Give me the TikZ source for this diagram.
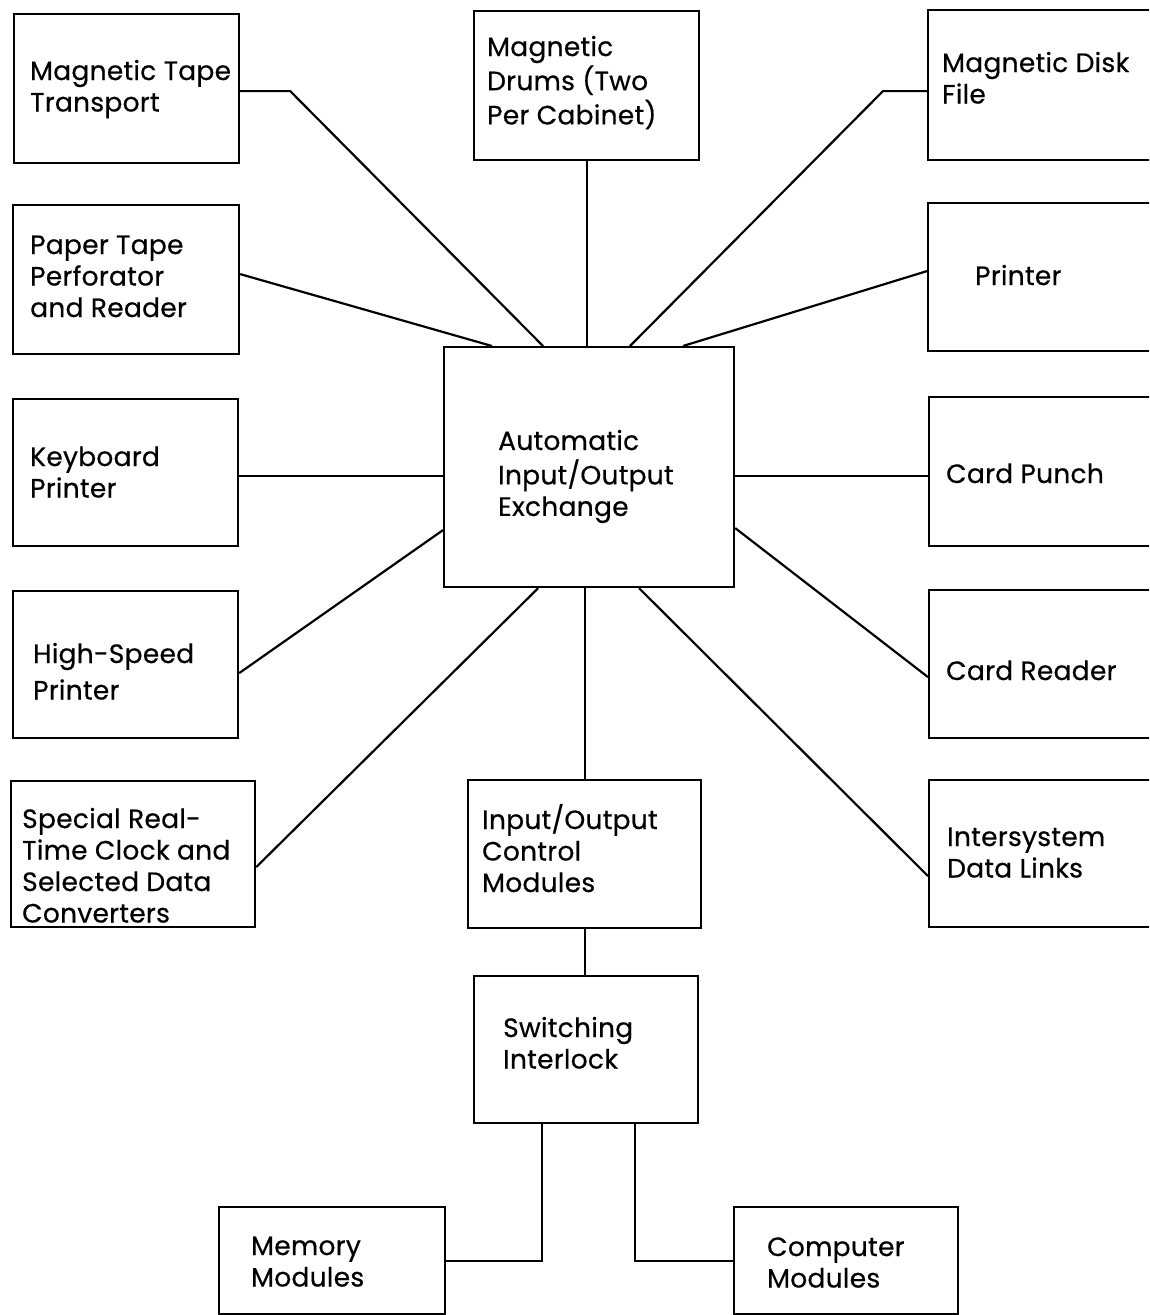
\documentclass[tikz,border=0pt]{standalone}
\usepackage{fontspec}
\setmainfont{Poppins}[LetterSpace=1,FakeBold=0.5]
\usetikzlibrary{calc}
\newcommand{\ml}[1]{\begin{tabular}[t]{@{}l@{}}#1\end{tabular}}
\tikzset{
  box/.style={draw, line width=2.2pt, rectangle, inner sep=0pt, anchor=north west},
  lbl/.style={inner sep=0pt, anchor=base west, font=\fontsize{26.5}{31.5}\selectfont},
  wire/.style={line width=2.2pt, line join=miter}
}
\newcommand{\bx}[5]{\node[box, minimum width=#4pt, minimum height=#5pt] (#1) at (#2,#3) {};}
\begin{document}
\begin{tikzpicture}[x=1pt,y=-1pt]
\useasboundingbox (0,0) rectangle (1149,1315);
\clip (0,0) rectangle (1149,1315);
\fill[white] (0,0) rectangle (1149,1315);
% boxes
\bx{mtt}{13}{13}{225}{149}
\bx{ptp}{12}{204}{226}{149}
\bx{kbd}{12}{398}{225}{147}
\bx{hsp}{12}{590}{225}{147}
\bx{srt}{10}{780}{244}{146}
\bx{drm}{473}{10}{225}{149}
\bx{cen}{443}{346}{290}{240}
\bx{dsk}{927}{9}{240}{150}
\bx{prt}{927}{202}{240}{148}
\bx{cpn}{928}{396}{240}{149}
\bx{crd}{928}{589}{240}{148}
\bx{isl}{928}{779}{240}{147}
\bx{ioc}{467}{779}{233}{148}
\bx{swi}{473}{975}{224}{147}
\bx{mem}{218}{1206}{226}{107}
\bx{cmp}{733}{1206}{224}{107}
% labels
\node[lbl] (mtt-l) at (30,80) {\ml{Magnetic Tape\\Transport}};
\node[lbl] (ptp-l) at (30,254) {\ml{Paper Tape\\Perforator\\and Reader}};
\node[lbl] (kbd-l) at (30,466) {\ml{Keyboard\\Printer}};
\node[lbl] (hsp-l) at (33,663) {\ml{High-Speed\\[5pt]Printer}};
\node[lbl] (srt-l) at (22,828) {\ml{Special Real-\\Time Clock and\\Selected Data\\Converters}};
\node[lbl] (drm-l) at (487,56) {\ml{Magnetic\\Drums (Two\\Per Cabinet)}};
\node[lbl] (cen-l) at (498,450) {\ml{Automatic\\Input/Output\\Exchange}};
\node[lbl] (dsk-l) at (942,72) {\ml{Magnetic Disk\\File}};
\node[lbl] (prt-l) at (975,285) {Printer};
\node[lbl] (cpn-l) at (946,483) {Card Punch};
\node[lbl] (crd-l) at (946,680) {Card Reader};
\node[lbl] (isl-l) at (947,846) {\ml{Intersystem\\Data Links}};
\node[lbl] (ioc-l) at (482,829) {\ml{Input/Output\\Control\\Modules}};
\node[lbl] (swi-l) at (503,1037) {\ml{Switching\\Interlock}};
\node[lbl] (mem-l) at (251,1255) {\ml{Memory\\Modules}};
\node[lbl] (cmp-l) at (767,1256) {\ml{Computer\\Modules}};
% connectors
\draw[wire] ([yshift=-2.5pt]mtt.east) -- ++(50,0) -- ([xshift=100pt]cen.north west);
\draw[wire] ([yshift=5.5pt]ptp.east) -- ([xshift=49pt]cen.north west);
\draw[wire] (drm.south) -- (drm.south |- cen.north);
\draw[wire] ([yshift=-6pt]dsk.west) -- ++(-44,0) -- ([xshift=187pt]cen.north west);
\draw[wire] ([yshift=6pt]prt.west) -- ([xshift=240pt]cen.north west);
\draw[wire] ([yshift=-3.5pt]kbd.east) coordinate (k1) -- (k1 -| cen.west);
\draw[wire] (k1 -| cen.east) -- (k1 -| cpn.west);
\draw[wire] ([yshift=-8.5pt]hsp.east) -- ([yshift=-63pt]cen.west);
\draw[wire] ([yshift=-61pt]cen.east) -- ([yshift=-13pt]crd.west);
\draw[wire] ([yshift=-13pt]srt.east) -- ([xshift=-51pt]cen.south);
\draw[wire] ([xshift=50pt]cen.south) -- ([yshift=-22.5pt]isl.west);
\draw[wire] (ioc.north |- cen.south) -- (ioc.north);
\draw[wire] (ioc.south) -- (ioc.south |- swi.north);
\draw[wire] ([xshift=-44pt]swi.south) |- (mem.east);
\draw[wire] ([xshift=49pt]swi.south) |- (cmp.west);
\end{tikzpicture}
\end{document}
